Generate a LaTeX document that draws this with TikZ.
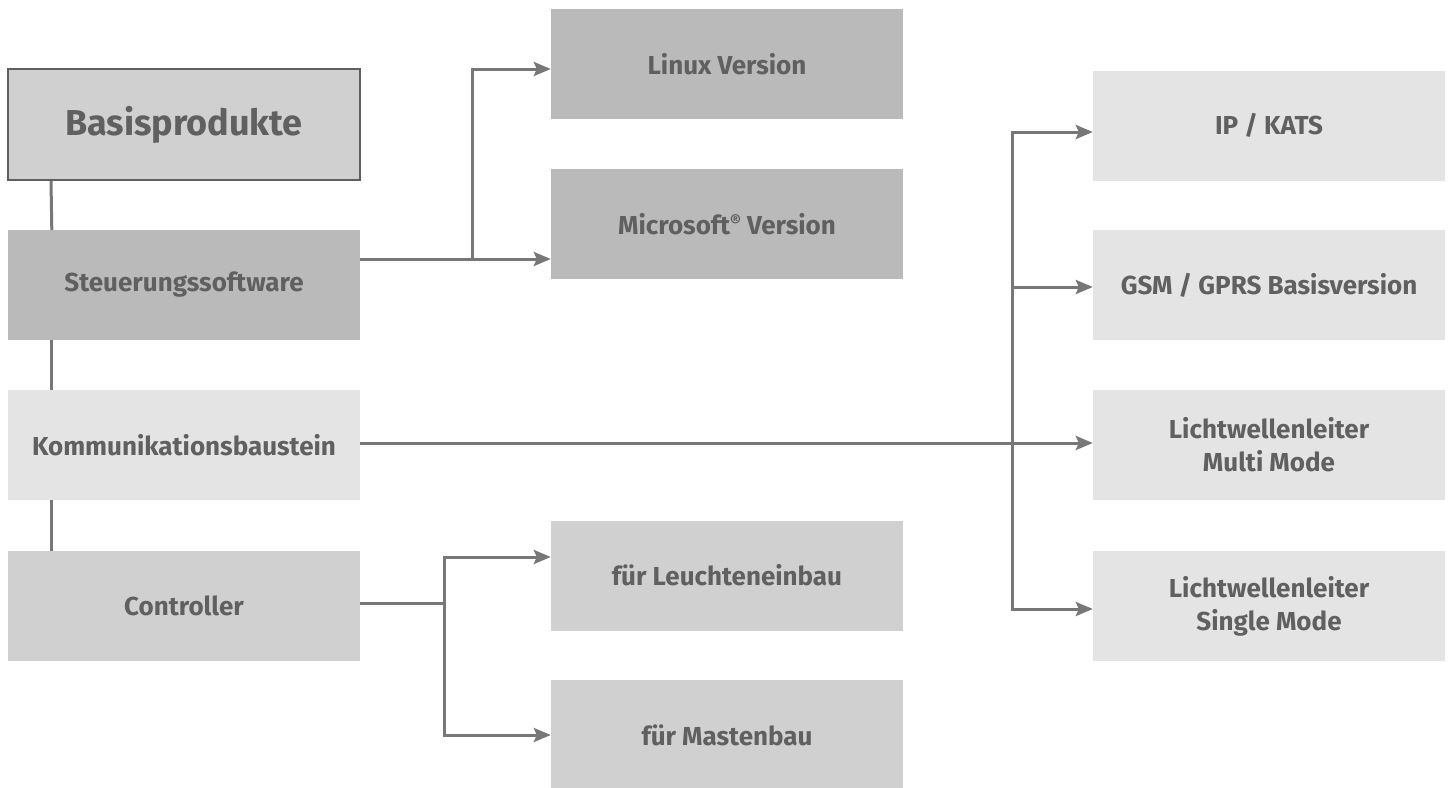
\documentclass[tikz,border=0pt]{standalone}
\usepackage{fontspec}
\setmainfont{Fira Sans}
\usetikzlibrary{arrows.meta}
\definecolor{boxdark}{HTML}{BABABA}
\definecolor{boxmid}{HTML}{D0D0D0}
\definecolor{boxlight}{HTML}{E4E4E4}
\definecolor{txt}{HTML}{606060}
\definecolor{ln}{HTML}{777777}
\tikzset{
  box/.style={rectangle, minimum width=352pt, minimum height=110pt, inner sep=0pt,
    align=center, text=txt, font=\bfseries\fontsize{26}{33}\selectfont},
  dark/.style={box, fill=boxdark},
  mid/.style={box, fill=boxmid},
  light/.style={box, fill=boxlight},
  conn/.style={draw=ln, line width=3pt},
  arr/.style={conn, -{Stealth[length=17pt, width=14pt, inset=3pt]}},
}
\begin{document}
\begin{tikzpicture}[x=1pt, y=-1pt]
\useasboundingbox (0,0) rectangle (1453,787);
% left column
\node[mid, draw=txt, line width=2pt, minimum height=111pt, font=\bfseries\fontsize{36}{40}\selectfont] (ba) at (184,124.5) {Basisprodukte};
\node[dark] (st) at (184,285) {Steuerungssoftware};
\node[light] (ko) at (184,445) {Kommunikationsbaustein};
\node[mid] (co) at (184,606) {Controller};
% middle column
\node[dark] (li) at (727,64) {Linux Version};
\node[dark] (mi) at (727,224) {Microsoft\raisebox{0.5ex}{\fontsize{17}{17}\selectfont ®} Version};
\node[mid] (le) at (727,575.5) {für Leuchteneinbau};
\node[mid] (ma) at (727,735) {für Mastenbau};
% right column
\node[light] (ip) at (1269,125.5) {IP / KATS};
\node[light] (gs) at (1269,285) {GSM / GPRS Basisversion};
\node[light] (mm) at (1269,445) {Lichtwellenleiter\\Multi Mode};
\node[light] (sm) at (1269,606) {Lichtwellenleiter\\Single Mode};
% left spine
\draw[conn] ([xshift=44pt]ba.south west) -- ([xshift=44pt]st.north west);
\draw[conn] ([xshift=44pt]st.south west) -- ([xshift=44pt]ko.north west);
\draw[conn] ([xshift=44pt]ko.south west) -- ([xshift=44pt]co.north west);
% Steuerungssoftware
\coordinate (sj) at (472,259);
\draw[arr] ([yshift=26pt]st.east) -- ([yshift=-35pt]mi.west);
\draw[arr] (sj) |- ([yshift=-5pt]li.west);
% Kommunikationsbaustein
\coordinate (rj) at (1012,443);
\draw[arr] ([yshift=2pt]ko.east) -- ([yshift=2pt]mm.west);
\draw[arr] (rj) |- ([yshift=-6.5pt]ip.west);
\draw[arr] (rj) |- ([yshift=-2pt]gs.west);
\draw[arr] (rj) |- ([yshift=-3pt]sm.west);
% Controller
\coordinate (cj) at (444,603);
\draw[conn] ([yshift=3pt]co.east) -- (cj);
\draw[arr] (cj) |- ([yshift=18.5pt]le.west);
\draw[arr] (cj) |- (ma.west);
\end{tikzpicture}
\end{document}
